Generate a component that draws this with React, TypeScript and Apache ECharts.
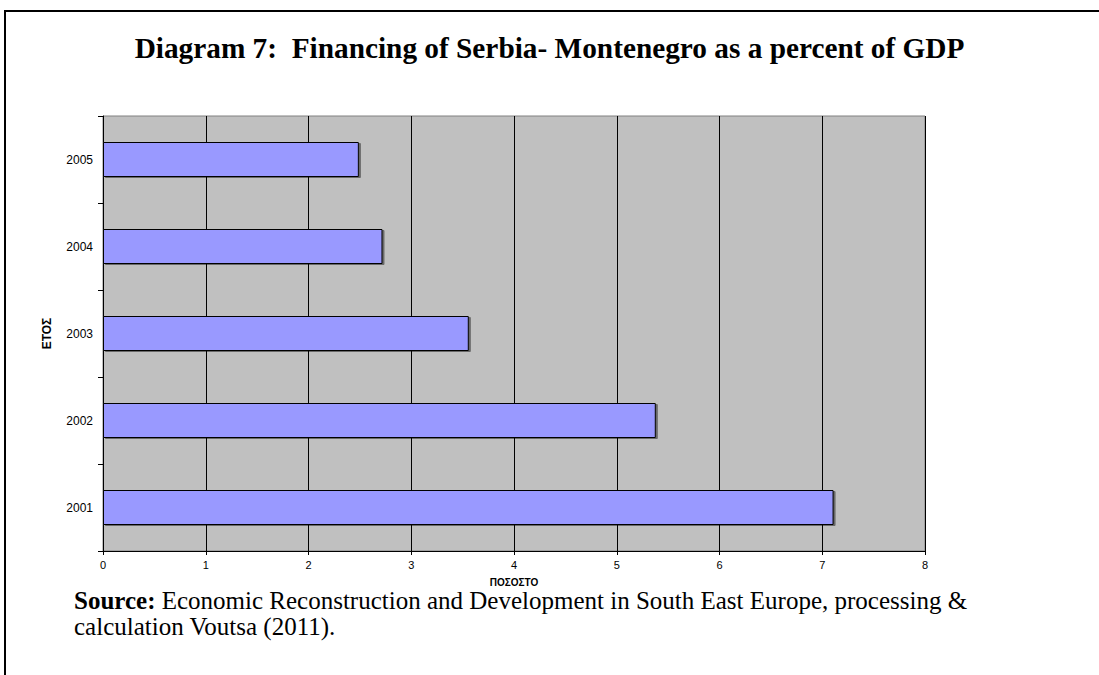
import React, { useEffect, useRef } from "react";
import * as echarts from "echarts";

const categories = ["2001", "2002", "2003", "2004", "2005"];
const values = [7.11, 5.38, 3.56, 2.72, 2.49];
const xTicks = [0, 1, 2, 3, 4, 5, 6, 7, 8];

const titleText = "Diagram 7:  Financing of Serbia- Montenegro as a percent of GDP";
const yAxisName = "ΕΤΟΣ";
const xAxisName = "ΠΟΣΟΣΤΟ";
const sourceBold = "Source:";
const sourceLine1 = " Economic Reconstruction and Development in South East Europe, processing &";
const sourceLine2 = "calculation Voutsa (2011).";

export default function App() {
  const ref = useRef<HTMLDivElement>(null);
  useEffect(() => {
    if (!ref.current) return;
    const chart = echarts.init(ref.current, null, { renderer: "svg" });
    const serif = "'Liberation Serif', 'Times New Roman', serif";
    const sans = "'Liberation Sans', Arial, sans-serif";
    chart.setOption({
      animation: false,
      backgroundColor: "#ffffff",
      title: {
        text: titleText,
        left: "center",
        top: 28,
        textStyle: { fontFamily: serif, fontWeight: "bold", fontSize: 29.3, color: "#000" },
      },
      grid: {
        left: 103,
        right: 174,
        top: 116,
        height: 435,
        show: true,
        backgroundColor: "#C0C0C0",
        borderColor: "#808080",
        borderWidth: 1,
      },
      xAxis: {
        type: "value",
        min: xTicks[0],
        max: xTicks[xTicks.length - 1],
        interval: 1,
        name: xAxisName,
        nameLocation: "middle",
        nameGap: 26,
        nameTextStyle: { fontFamily: sans, fontWeight: "bold", fontSize: 10, lineHeight: 10, color: "#000" },
        axisLine: { show: true, lineStyle: { color: "#000", width: 1 } },
        axisTick: { show: true, length: 4, lineStyle: { color: "#000" } },
        axisLabel: { fontFamily: sans, fontSize: 11, lineHeight: 11, color: "#000", margin: 8 },
        splitLine: { show: true, lineStyle: { color: "#000", width: 1 } },
      },
      yAxis: {
        type: "category",
        data: categories,
        name: yAxisName,
        nameLocation: "middle",
        nameGap: 50,
        nameRotate: 90,
        nameTextStyle: { fontFamily: sans, fontWeight: "bold", fontSize: 12, color: "#000" },
        axisLine: { show: true, lineStyle: { color: "#000", width: 1 } },
        axisTick: { show: true, length: 5, lineStyle: { color: "#000" } },
        axisLabel: { fontFamily: sans, fontSize: 12, color: "#000", margin: 10 },
        splitLine: { show: false },
      },
      series: [
        {
          type: "bar",
          data: values,
          barWidth: 35,
          itemStyle: {
            color: "#9999FF",
            borderColor: "#000",
            borderWidth: 1,
            shadowColor: "rgba(0,0,0,0.45)",
            shadowOffsetX: 2,
            shadowOffsetY: 1,
            shadowBlur: 0,
          },
        },
      ],
      graphic: [
        { type: "line", z: 100, shape: { x1: 5, y1: 11, x2: 1099, y2: 11 }, style: { stroke: "#000", lineWidth: 2 } },
        { type: "line", z: 100, shape: { x1: 5, y1: 10, x2: 5, y2: 675 }, style: { stroke: "#000", lineWidth: 2 } },
        {
          type: "text",
          z: 100,
          left: 74,
          top: 588,
          style: {
            text: "{b|" + sourceBold + "}{r|" + sourceLine1 + "}\n{r|" + sourceLine2 + "}",
            rich: {
              b: { fontFamily: serif, fontWeight: "bold", fontSize: 25, lineHeight: 26, fill: "#000" },
              r: { fontFamily: serif, fontSize: 25, lineHeight: 26, fill: "#000" },
            },
          },
        },
      ],
    });
    return () => chart.dispose();
  }, []);
  return (
    <div
      ref={ref}
      style={{ position: "fixed", left: 0, top: 0, width: 1099, height: 675 }}
    />
  );
}
